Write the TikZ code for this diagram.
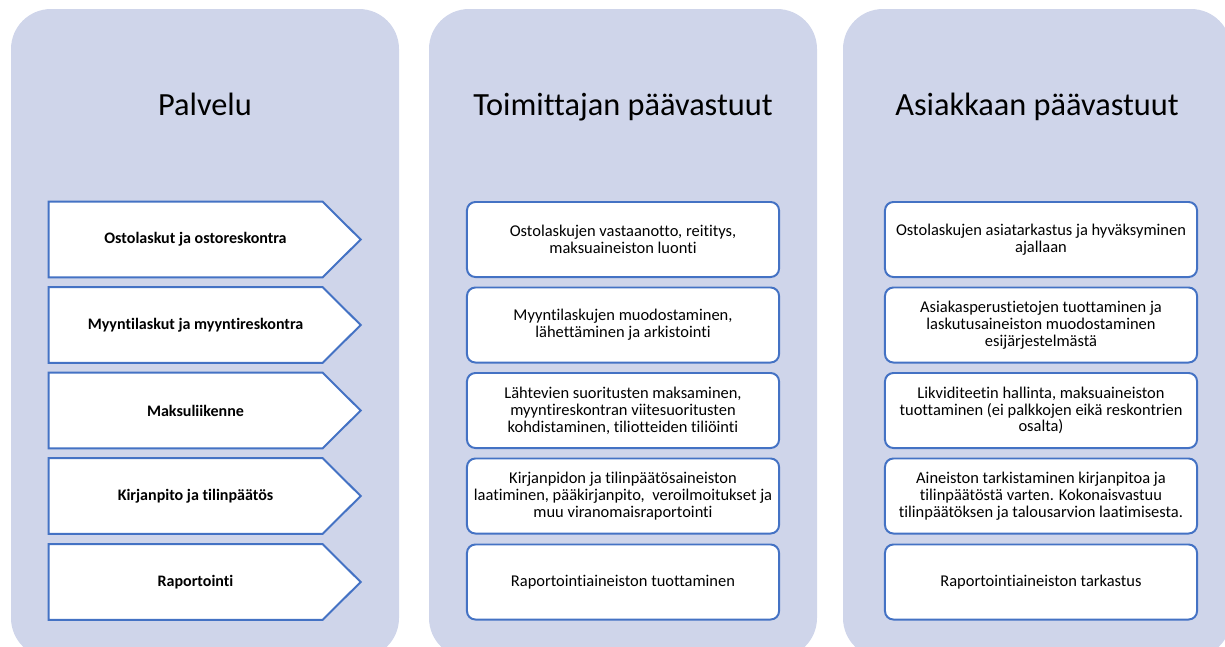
\documentclass[tikz,border=0pt]{standalone}
\usepackage{fontspec}
\setmainfont[Ligatures=NoCommon]{Carlito}
\usepackage{tikz}
\usetikzlibrary{calc,positioning}
\definecolor{panelblue}{RGB}{207,213,234}
\definecolor{boxblue}{RGB}{68,114,196}
\pgfdeclarelayer{background}
\pgfdeclarelayer{shapes}
\pgfsetlayers{background,shapes,main}
\tikzset{
  panel/.style={fill=panelblue, rounded corners=1cm},
  head/.style={anchor=base, font=\fontsize{23}{27}\selectfont},
  svc/.style={minimum width=7.325cm, minimum height=1.875cm, inner sep=0pt,
    align=center, font=\fontsize{11.4}{12}\selectfont\bfseries},
  arrowline/.style={draw=boxblue, fill=white, line width=1.4pt},
  taskbox/.style={draw=boxblue, fill=white, line width=1.4pt, rounded corners=6pt,
    minimum width=7.8cm, minimum height=1.875cm, inner sep=0pt,
    align=center, font=\fontsize{11.7}{12}\selectfont}
}

\begin{document}
\begin{tikzpicture}[x=0.025cm,y=-0.025cm]
                      \path[use as bounding box] (0,0) rectangle (1225,646);
                      % the three columns
                      \begin{pgfonlayer}{background}
                      \fill[panel] (11,9) rectangle (399,658);
                      \fill[panel] (429,9) rectangle (817,658);
                      \fill[panel] (843,9) rectangle (1231,658);
                      \end{pgfonlayer}
                      % column titles
                      \node[head] (h1) at (205,115) {Palvelu};
                      \node[head] (h2) at (623,115) {Toimittajan päävastuut};
                      \node[head] (h3) at (1037,115) {Asiakkaan päävastuut};
                      % services
                      \node[svc] (p1) at (195.5,239.5) {Ostolaskut ja ostoreskontra};
                      \node[svc] (p2) at (195.5,325) {Myyntilaskut ja myyntireskontra};
                      \node[svc] (p3) at (195.5,410.5) {Maksuliikenne};
                      \node[svc] (p4) at (195.5,496) {Kirjanpito ja tilinpäätös};
                      \node[svc] (p5) at (195.5,582) {Raportointi};
                      \begin{pgfonlayer}{shapes}
                      \foreach \n in {p1,p2,p3,p4,p5}
                        \draw[arrowline] (\n.north west) -- ($(\n.north west)+(274,0)$) -- ($(\n.west)+(312,0)$)
                          -- ($(\n.south west)+(274,0)$) -- (\n.south west) -- cycle;
                      \end{pgfonlayer}
                      % supplier
                      \node[taskbox] (t1) at (623,239.5) {Ostolaskujen vastaanotto, reititys,\\ maksuaineiston luonti};
                      \node[taskbox] (t2) at (623,325) {Myyntilaskujen muodostaminen,\\ lähettäminen ja arkistointi};
                      \node[taskbox] (t3) at (623,410.5) {Lähtevien suoritusten maksaminen,\\ myyntireskontran viitesuoritusten\\ kohdistaminen, tiliotteiden tiliöinti};
                      \node[taskbox] (t4) at (623,496) {Kirjanpidon ja tilinpäätösaineiston\\ laatiminen, pääkirjanpito,\ \ veroilmoitukset ja\\ muu viranomaisraportointi};
                      \node[taskbox] (t5) at (623,582) {Raportointiaineiston tuottaminen};
                      % customer
                      \node[taskbox] (c1) at (1041,239.5) {Ostolaskujen asiatarkastus ja hyväksyminen\\ ajallaan};
                      \node[taskbox] (c2) at (1041,325) {Asiakasperustietojen tuottaminen ja\\ laskutusaineiston muodostaminen\\ esijärjestelmästä};
                      \node[taskbox] (c3) at (1041,410.5) {Likviditeetin hallinta, maksuaineiston\\ tuottaminen (ei palkkojen eikä reskontrien\\ osalta)};
                      \node[taskbox] (c4) at (1041,496) {Aineiston tarkistaminen kirjanpitoa ja\\ tilinpäätöstä varten. Kokonaisvastuu\\ tilinpäätöksen ja talousarvion laatimisesta.};
                      \node[taskbox] (c5) at (1041,582) {Raportointiaineiston tarkastus};
                  \end{tikzpicture}
\end{document}
